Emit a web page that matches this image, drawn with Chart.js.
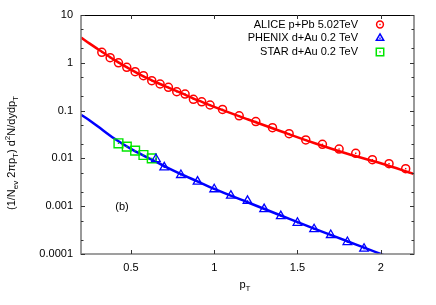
<!DOCTYPE html>
<html>
<head>
<meta charset="utf-8">
<script src="https://cdn.jsdelivr.net/npm/chart.js@4/dist/chart.umd.min.js"></script>
<style>
  html, body { margin: 0; padding: 0; background: #fff; }
</style>
</head>
<body>
<canvas id="myChart" width="436" height="305"></canvas>
<script>
// data
const alicePt = [0.325, 0.375, 0.425, 0.475, 0.525, 0.575, 0.625, 0.675, 0.725, 0.775, 0.825, 0.875, 0.925, 0.975,
                 1.05, 1.15, 1.25, 1.35, 1.45, 1.55, 1.65, 1.75, 1.85, 1.95, 2.05, 2.15];
const aliceVal = [1.66, 1.28, 1.00, 0.805, 0.652, 0.537, 0.422, 0.360, 0.307, 0.248, 0.222, 0.172, 0.153, 0.131,
                  0.106, 0.0777, 0.0591, 0.0439, 0.0329, 0.0243, 0.0197, 0.0157, 0.0128, 0.0094, 0.00775, 0.0061];

const phenixPt = [0.65, 0.7, 0.8, 0.9, 1.0, 1.1, 1.2, 1.3, 1.4, 1.5, 1.6, 1.7, 1.8, 1.9];
const phenixVal = [0.0097, 0.0065, 0.0045, 0.00326, 0.00226, 0.00166, 0.00129, 0.00087, 0.00062, 0.00045,
                   0.00033, 0.00025, 0.000178, 0.000129];

const starPt = [0.425, 0.475, 0.525, 0.575, 0.625];
const starVal = [0.0207, 0.0176, 0.0145, 0.0118, 0.0100];

// fit curves
const fitPt = [0.2, 0.25, 0.3, 0.4, 0.5, 0.6, 0.7, 0.8, 0.9, 1.0, 1.2, 1.4, 1.6, 1.8, 2.0, 2.2];
const aliceFit = [3.4, 2.55, 1.95, 1.15, 0.72, 0.47, 0.33, 0.235, 0.165, 0.12, 0.066, 0.037, 0.021, 0.0125, 0.0079, 0.0047];
const dAuFit = [0.082, 0.063, 0.047, 0.026, 0.0158, 0.0104, 0.0069, 0.0047, 0.0033, 0.0023, 0.00121, 0.00064,
                0.00034, 0.000185, 0.0001, 0.000052];

const xTicks = [0.5, 1, 1.5, 2];
const yTicks = [0.0001, 0.001, 0.01, 0.1, 1, 10];
const yTickLabels = ['0.0001', '0.001', '0.01', '0.1', '1', '10'];
const seriesNames = ['ALICE p+Pb 5.02TeV', 'PHENIX d+Au 0.2 TeV', 'STAR d+Au 0.2 TeV'];

const FONT = "'Liberation Sans', Arial, Helvetica, sans-serif";
const CLEAR = 'rgba(0,0,0,0)';
Chart.defaults.font.family = FONT;
Chart.defaults.font.size = 11;
Chart.defaults.color = '#000';

function pts(xs, ys) {
    return xs.map((x, i) => ({x: x, y: ys[i]}));
}

// small dot in the middle of each marker, frame, ticks, legend, titles
const decorations = {
    id: 'decorations',
    afterDatasetsDraw(chart) {
        const ctx = chart.ctx;
        chart.data.datasets.forEach((ds, i) => {
            if (ds.showLine !== false) return;
            const meta = chart.getDatasetMeta(i);
            ctx.save();
            ctx.fillStyle = ds.borderColor;
            meta.data.forEach(el => {
                ctx.fillRect(el.x - 0.7, el.y - 0.7, 1.4, 1.4);
            });
            ctx.restore();
        });
    },
    afterDraw(chart) {
        const ctx = chart.ctx;
        const a = chart.chartArea;
        const xs = chart.scales.x, ys = chart.scales.y;
        ctx.save();

        // frame
        ctx.lineWidth = 1.6;
        ctx.strokeStyle = '#808080';
        ctx.beginPath();
        ctx.moveTo(a.right, a.top);
        ctx.lineTo(a.right, a.bottom);
        ctx.lineTo(a.left, a.bottom);
        ctx.lineTo(a.left, a.top);
        ctx.stroke();
        ctx.lineWidth = 1;
        ctx.strokeStyle = '#000';
        ctx.beginPath();
        ctx.moveTo(a.left, a.top + 0.5);
        ctx.lineTo(a.right, a.top + 0.5);
        ctx.stroke();

        // ticks (inward, mirrored)
        ctx.strokeStyle = '#333';
        ctx.lineWidth = 1;
        ctx.beginPath();
        xTicks.forEach(v => {
            const px = Math.round(xs.getPixelForValue(v)) + 0.5;
            ctx.moveTo(px, a.bottom); ctx.lineTo(px, a.bottom - 4);
            ctx.moveTo(px, a.top); ctx.lineTo(px, a.top + 4);
        });
        yTicks.forEach(v => {
            const py = Math.round(ys.getPixelForValue(v)) + 0.5;
            ctx.moveTo(a.left, py); ctx.lineTo(a.left + 4, py);
            ctx.moveTo(a.right, py); ctx.lineTo(a.right - 4, py);
            if (v < 10) {
                [2, 5].forEach(m => {
                    const pm = Math.round(ys.getPixelForValue(v * m)) + 0.5;
                    ctx.moveTo(a.left, pm); ctx.lineTo(a.left + 2.5, pm);
                    ctx.moveTo(a.right, pm); ctx.lineTo(a.right - 2.5, pm);
                });
            }
        });
        ctx.stroke();

        // legend
        ctx.textAlign = 'right';
        ctx.textBaseline = 'middle';
        seriesNames.forEach((name, i) => {
            const ds = chart.data.datasets[i];
            const y = 24.5 + i * 13.7;
            ctx.font = '11px ' + FONT;
            ctx.fillStyle = '#000';
            ctx.fillText(name, 358, y);
            ctx.strokeStyle = ds.borderColor;
            ctx.fillStyle = CLEAR;
            ctx.lineWidth = 1.5;
            Chart.helpers.drawPoint(ctx, {pointStyle: ds.pointStyle, radius: ds.pointRadius * 0.85, borderWidth: 1.5}, 380, y);
            ctx.fillStyle = ds.borderColor;
            ctx.fillRect(379.3, y - 0.7, 1.4, 1.4);
        });

        // (b)
        ctx.fillStyle = '#000';
        ctx.font = '11px ' + FONT;
        ctx.textAlign = 'center';
        ctx.fillText('(b)', 122, 207);

        // x title
        drawRich(ctx, [['p', 0], ['T', 1]], 245, 285);

        // y title (rotated)
        ctx.translate(12, 153);
        ctx.rotate(-Math.PI / 2);
        drawRich(ctx, [['(1/N', 0], ['ev', 1], [' 2\u03c0p', 0], ['T', 1], [') d', 0], ['2', 2], ['N/dydp', 0], ['T', 1]], 0, 0);
        ctx.restore();
    }
};

// text with subscripts (1) and superscripts (2), centred at x,y
function drawRich(ctx, parts, cx, cy) {
    const big = '11px ' + FONT, small = '8px ' + FONT;
    let w = 0;
    parts.forEach(p => {
        ctx.font = p[1] ? small : big;
        w += ctx.measureText(p[0]).width;
    });
    let x = cx - w / 2;
    ctx.textAlign = 'left';
    ctx.textBaseline = 'middle';
    ctx.fillStyle = '#000';
    parts.forEach(p => {
        ctx.font = p[1] ? small : big;
        const dy = p[1] == 1 ? 3.5 : (p[1] == 2 ? -4 : 0);
        ctx.fillText(p[0], x, cy + dy);
        x += ctx.measureText(p[0]).width;
    });
}

let myChart = document.getElementById('myChart').getContext('2d');
let spectraChart = new Chart(myChart, {
    type: 'line',
    data: {
        datasets: [
            {
                label: seriesNames[0],
                data: pts(alicePt, aliceVal),
                showLine: false,
                borderColor: '#ff0000',
                backgroundColor: CLEAR,
                pointBackgroundColor: CLEAR,
                pointStyle: 'circle',
                pointRadius: 4,
                pointBorderWidth: 1.5
            },
            {
                label: seriesNames[1],
                data: pts(phenixPt, phenixVal),
                showLine: false,
                borderColor: '#0000ff',
                backgroundColor: CLEAR,
                pointBackgroundColor: CLEAR,
                pointStyle: 'triangle',
                pointRadius: 5,
                pointBorderWidth: 1.3
            },
            {
                label: seriesNames[2],
                data: pts(starPt, starVal),
                showLine: false,
                borderColor: '#00e600',
                backgroundColor: CLEAR,
                pointBackgroundColor: CLEAR,
                pointStyle: 'rect',
                pointRadius: 6.2,
                pointBorderWidth: 1.4
            },
            {
                label: 'fit p+Pb',
                data: pts(fitPt, aliceFit),
                borderColor: '#ff0000',
                borderWidth: 2.5,
                pointRadius: 0,
                cubicInterpolationMode: 'monotone'
            },
            {
                label: 'fit d+Au',
                data: pts(fitPt, dAuFit),
                borderColor: '#0000ff',
                borderWidth: 2.5,
                pointRadius: 0,
                cubicInterpolationMode: 'monotone'
            }
        ]
    },
    options: {
        responsive: false,
        animation: false,
        layout: {
            padding: {top: 15, right: 22, left: 0, bottom: 0}
        },
        plugins: {
            legend: {display: false},
            tooltip: {enabled: false}
        },
        scales: {
            x: {
                type: 'linear',
                min: 0.2,
                max: 2.2,
                grid: {display: false, drawTicks: false},
                border: {display: false},
                ticks: {padding: 7, font: {size: 11}, callback: v => String(v)},
                afterBuildTicks: s => { s.ticks = xTicks.map(v => ({value: v})); },
                afterFit: s => { s.height = 51; }
            },
            y: {
                type: 'logarithmic',
                min: 0.0001,
                max: 10,
                grid: {display: false, drawTicks: false},
                border: {display: false},
                ticks: {
                    padding: 8,
                    font: {size: 11},
                    callback: v => {
                        const i = yTicks.findIndex(t => Math.abs(Math.log10(t) - Math.log10(v)) < 1e-6);
                        return i >= 0 ? yTickLabels[i] : '';
                    }
                },
                afterBuildTicks: s => { s.ticks = yTicks.map(v => ({value: v})); },
                afterFit: s => { s.width = 81; }
            }
        }
    },
    plugins: [decorations]
});
</script>
</body>
</html>
